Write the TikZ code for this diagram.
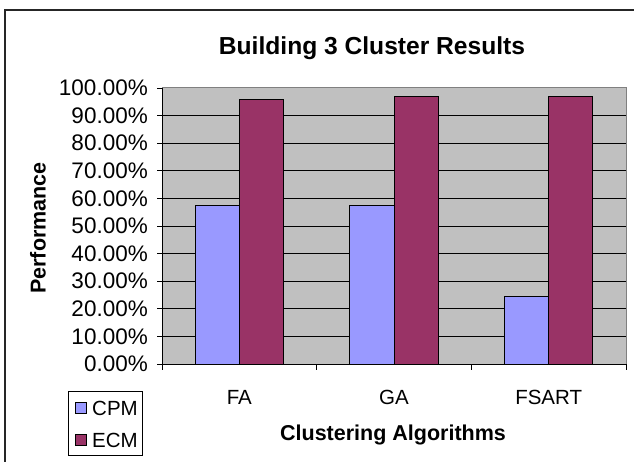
\documentclass[tikz,border=0pt]{standalone}
\usepackage{fontspec}
\setmainfont{Liberation Sans}
\definecolor{cpmblue}{HTML}{9999FF}
\definecolor{ecmplum}{HTML}{993366}
\definecolor{plotgrey}{HTML}{C0C0C0}
\definecolor{edgegrey}{HTML}{808080}
\newcommand\ttlfont{\fontsize{24.6}{28}\selectfont\bfseries}
\newcommand\lblfont{\fontsize{20.5}{24}\selectfont}
\newcommand\valfont{\fontsize{22.5}{26}\selectfont}
\newcommand\axfont{\fontsize{21.5}{25}\selectfont\bfseries}
\begin{document}
\begin{tikzpicture}[x=1pt,y=-1pt,
  barcpm/.style={fill=cpmblue,draw=black,line width=0.9pt},
  barecm/.style={fill=ecmplum,draw=black,line width=0.9pt},
  grid line/.style={draw=black,line width=0.8pt},
  axis line/.style={draw=black,line width=0.9pt},
  ticklabel/.style={font=\lblfont,inner sep=0pt},
  valuelabel/.style={font=\valfont,inner sep=0pt},
  outer frame/.style={draw=black!85,line width=1.6pt}]
\useasboundingbox (0,0) rectangle (634,462);
\clip (0,0) rectangle (634,462);
\fill[white] (0,0) rectangle (634,462);
% chart frame, running off the right and bottom edges
\draw[outer frame] (5,10) rectangle (680,500);
% plot area
\fill[plotgrey] (162,88) rectangle (626,364);
\foreach \v in {10,20,...,90}
  \draw[grid line] (162,{364-2.76*\v}) -- (626,{364-2.76*\v});
\draw[edgegrey,line width=1pt] (162,88) -- (626,88) -- (626,364);
% bars: category width 464/3, bar width = category/3.5
\foreach \i/\a/\b in {0/57.3/96.0,1/57.3/97.1,2/24.3/97.1}{
  \pgfmathsetmacro\c{162+154.667*(\i+0.5)}
  \draw[barcpm] ({\c-44.19},364) rectangle (\c,{364-2.76*\a});
  \draw[barecm] (\c,364) rectangle ({\c+44.19},{364-2.76*\b});
}
% axes and ticks
\draw[axis line] (162,88) -- (162,364) -- (626,364);
\foreach \v in {0,10,...,100}{
  \draw[axis line] (157,{364-2.76*\v}) -- (162,{364-2.76*\v});
  \node[valuelabel,anchor=east] (y\v) at (148,{364-2.76*\v}) {\v.00\%};
}
\foreach \k in {0,1,2,3}
  \draw[axis line] ({162+154.667*\k},364) -- ({162+154.667*\k},370);
\node[ticklabel] (catFA) at (239.3,397) {FA};
\node[ticklabel] (catGA) at (394,397) {GA};
\node[ticklabel] (catFSART) at (548.7,397) {FSART};
% titles
\node[font=\ttlfont,inner sep=0pt] (title) at (372,48) {Building 3 Cluster Results};
\node[font=\axfont,inner sep=0pt,rotate=90] (ytitle) at (38,228) {Performance};
\node[font=\axfont,inner sep=0pt] (xtitle) at (393,435) {Clustering Algorithms};
% legend
\node[draw=black,line width=0.9pt,fill=white,minimum width=74pt,minimum height=64pt,inner sep=0pt] (legend) at (105,423) {};
\draw[barcpm] (75.5,402.5) rectangle (86.5,413.5);
\draw[barecm] (75.5,434.5) rectangle (86.5,445.5);
\node[ticklabel,anchor=west] (legCPM) at (92,408) {CPM};
\node[ticklabel,anchor=west] (legECM) at (92,440) {ECM};
\end{tikzpicture}
\end{document}
